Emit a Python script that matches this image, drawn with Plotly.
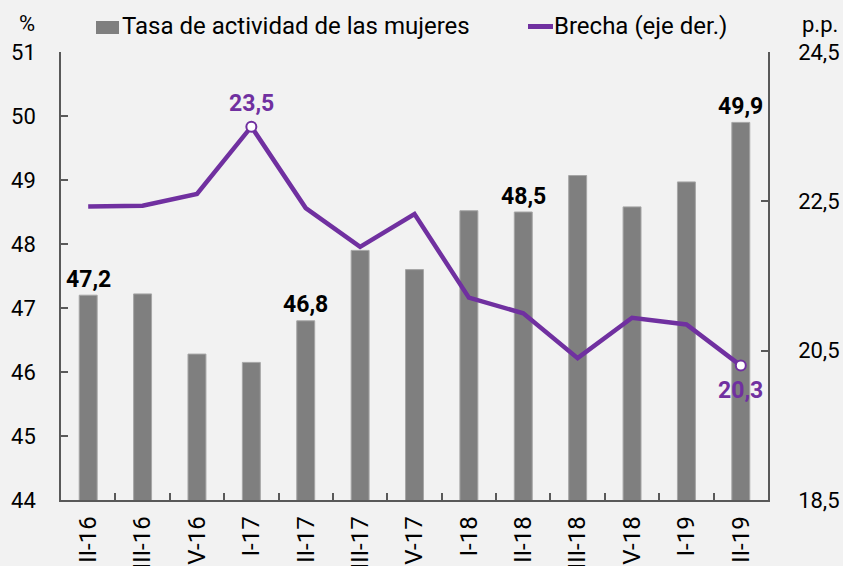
import plotly.graph_objects as go

categories = ["II-16", "III-16", "IV-16", "I-17", "II-17", "III-17", "IV-17",
              "I-18", "II-18", "III-18", "IV-18", "I-19", "II-19"]
tasa = [47.2, 47.22, 46.28, 46.15, 46.8, 47.9, 47.6, 48.52, 48.5, 49.07, 48.58, 48.97, 49.9]
brecha = [22.43, 22.44, 22.6, 23.5, 22.41, 21.89, 22.33, 21.21, 21.0, 20.4, 20.94, 20.85, 20.3]
bar_label_idx = [0, 4, 8, 12]
line_label_idx = [3, 12]

left_ticks = [44, 45, 46, 47, 48, 49, 50, 51]
right_ticks = [18.5, 20.5, 22.5, 24.5]

BAR = "#7f7f7f"
PURPLE = "#7030a0"
AXIS = "#595959"
BG = "#f2f2f2"
FONT = "Roboto"

W, H = 843, 566
L, R, T, B = 61, 768, 52, 500


def px(xp):
    return (xp - L) / (R - L)


def py(yp):
    return (B - yp) / (B - T)


def fmt(v):
    return f"{v:.1f}".replace(".", ",")


fig = go.Figure()
fig.add_trace(go.Bar(
    x=categories, y=tasa, width=0.33,
    marker=dict(color=BAR, line=dict(color="#a6a6a6", width=1)),
    showlegend=False, hoverinfo="skip",
))
fig.add_trace(go.Scatter(
    x=categories, y=brecha, yaxis="y2", mode="lines",
    line=dict(color=PURPLE, width=4.5), showlegend=False, hoverinfo="skip",
))
fig.add_trace(go.Scatter(
    x=[categories[i] for i in line_label_idx],
    y=[brecha[i] for i in line_label_idx], yaxis="y2", mode="markers",
    marker=dict(color="white", size=10, line=dict(color=PURPLE, width=2)),
    showlegend=False, hoverinfo="skip", cliponaxis=False,
))

annotations = []
for i in bar_label_idx:
    annotations.append(dict(x=categories[i], y=tasa[i], xref="x", yref="y",
                            text=fmt(tasa[i]), showarrow=False, yshift=16,
                            font=dict(family=FONT, size=23, color="black", weight="bold")))
for i in line_label_idx:
    shift = 23 if i == 3 else -25
    annotations.append(dict(x=categories[i], y=brecha[i], xref="x", yref="y2",
                            text=fmt(brecha[i]), showarrow=False, yshift=shift,
                            font=dict(family=FONT, size=23, color=PURPLE, weight="bold")))

# header texts
annotations.append(dict(x=px(27), y=py(23), xref="paper", yref="paper", text="%",
                        xanchor="center", yanchor="middle",
                        showarrow=False, font=dict(family=FONT, size=22, color="black")))
annotations.append(dict(x=px(820), y=py(24), xref="paper", yref="paper", text="p.p.",
                        xanchor="center", yanchor="middle",
                        showarrow=False, font=dict(family=FONT, size=22, color="black")))
# manual legend
annotations.append(dict(x=px(120), y=py(26), xref="paper", yref="paper",
                        text="Tasa de actividad de las mujeres", xanchor="left", yanchor="middle",
                        showarrow=False, font=dict(family=FONT, size=24, color="black")))
annotations.append(dict(x=px(552), y=py(26), xref="paper", yref="paper",
                        text="Brecha (eje der.)", xanchor="left", yanchor="middle",
                        showarrow=False, font=dict(family=FONT, size=24, color="black")))

shapes = [
    dict(type="rect", xref="paper", yref="paper", x0=px(96), x1=px(119), y0=py(34), y1=py(21),
         fillcolor=BAR, line=dict(width=0)),
    dict(type="line", xref="paper", yref="paper", x0=px(528), x1=px(553), y0=py(26.5), y1=py(26.5),
         line=dict(color=PURPLE, width=5)),
]

fig.update_layout(
    template="none",
    width=W, height=H,
    margin=dict(l=L, r=W - R, t=T, b=H - B, pad=0),
    paper_bgcolor=BG, plot_bgcolor=BG,
    separators=", ",
    font=dict(family=FONT, size=22, color="black"),
    showlegend=False,
    annotations=annotations,
    shapes=shapes,
    xaxis=dict(type="category", showline=True, linecolor=AXIS, linewidth=1.5,
               ticks="inside", ticklen=7, tickcolor=AXIS, tickwidth=1.5,
               tickson="boundaries", tickangle=-90, showgrid=False, zeroline=False,
               tickfont=dict(family=FONT, size=24, color="black"),
               ticklabelstandoff=5, automargin=False,
               range=[-0.5, len(categories) - 0.5]),
    yaxis=dict(range=[44, 51], tickvals=left_ticks, showline=True, linecolor=AXIS,
               linewidth=1.5, ticks="inside", ticklen=7, tickcolor=AXIS, tickwidth=1.5,
               showgrid=False, zeroline=False, automargin=False,
               tickfont=dict(family=FONT, size=22, color="black"),
               ticklabelstandoff=19),
    yaxis2=dict(range=[18.5, 24.5], tickvals=right_ticks, overlaying="y", side="right",
                showline=True, linecolor=AXIS, linewidth=1.5, ticks="inside", ticklen=7,
                tickcolor=AXIS, tickwidth=1.5, showgrid=False, zeroline=False,
                automargin=False, tickformat=".1f",
                tickfont=dict(family=FONT, size=22, color="black"),
                ticklabelstandoff=24),
)

fig.write_html("out.html", config={"displayModeBar": False},
               post_script="document.body.style.margin='0px';document.body.style.overflow='hidden';")
